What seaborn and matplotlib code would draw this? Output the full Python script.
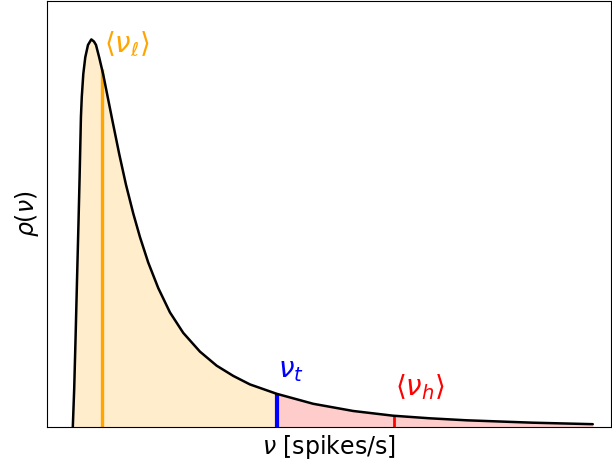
import seaborn as sns
import matplotlib.pyplot as plt
import numpy as np

# rate distribution (arbitrary units)
nu = [4.66, 4.91, 5.16, 5.42, 5.67, 5.86, 5.99, 6.10, 6.25, 6.52, 6.87, 7.35,
      7.94, 8.41, 8.77, 9.35, 10.06, 10.84, 11.73, 12.90, 14.08, 15.38, 16.56,
      18.03, 19.81, 21.88, 24.23, 27.19, 30.15, 33.09, 36.05, 40.78, 47.26,
      54.35, 61.43, 67.94, 74.49, 86.18, 96.81]
rho = [0.000, 0.091, 0.215, 0.352, 0.481, 0.584, 0.662, 0.728, 0.775, 0.829,
       0.868, 0.897, 0.910, 0.905, 0.897, 0.867, 0.827, 0.775, 0.716, 0.640,
       0.569, 0.501, 0.446, 0.386, 0.326, 0.269, 0.221, 0.177, 0.144, 0.120,
       0.100, 0.078, 0.0545, 0.0376, 0.0265, 0.0204, 0.0157, 0.0101, 0.0066]

nu_l = 9.8    # <nu_l>
nu_t = 40.78  # threshold
nu_h = 61.5   # <nu_h>

nu = np.array(nu)
rho = np.array(rho)

sns.set_style("ticks")
plt.rcParams.update({"text.color": "black", "axes.labelcolor": "black",
                     "axes.edgecolor": "black"})

fig = plt.figure(figsize=(6.12, 4.66), dpi=100)
ax = fig.add_axes([0.076, 0.0837, 0.922, 0.914])

# shaded low / high parts
ax.fill_between(nu, rho, where=nu <= nu_t, color="orange", alpha=0.2, linewidth=0)
ax.fill_between(nu, rho, where=nu >= nu_t, color="red", alpha=0.2, linewidth=0)

# markers up to the curve
ax.vlines(nu_l, 0, np.interp(nu_l, nu, rho), color="orange", linewidth=2.4)
ax.vlines(nu_t, 0, np.interp(nu_t, nu, rho), color="blue", linewidth=3)
ax.vlines(nu_h, 0, np.interp(nu_h, nu, rho), color="red", linewidth=2)

sns.lineplot(x=nu, y=rho, color="black", linewidth=1.8, ax=ax)

ax.text(nu_l + 0.4, 0.898, r"$\langle\nu_\ell\rangle$", color="orange",
        fontsize=20, va="center", ha="left")
ax.text(nu_t + 0.2, 0.133, r"$\nu_t$", color="blue",
        fontsize=20, va="center", ha="left")
ax.text(nu_h + 0.2, 0.094, r"$\langle\nu_h\rangle$", color="red",
        fontsize=20, va="center", ha="left")

ax.set_xlim(0, 100)
ax.set_ylim(0, 1)
ax.set_xticks([])
ax.set_yticks([])
ax.set_xlabel(r"$\nu$ [spikes/s]", fontsize=17)
ax.set_ylabel(r"$\rho(\nu)$", fontsize=17)

plt.savefig("out.png", dpi=100)
